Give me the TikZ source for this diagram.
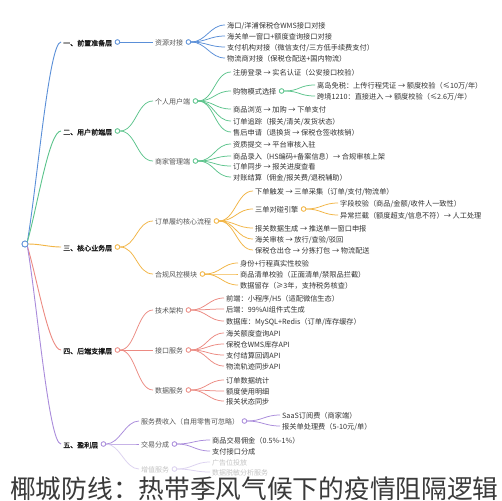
\documentclass[tikz,border=0pt]{standalone}
\usepackage{fontspec}
\setmainfont{Noto Sans CJK SC}
\newfontfamily\bfcjk[FakeBold=1.6]{Noto Sans CJK SC}
\usetikzlibrary{calc}
\definecolor{cB}{HTML}{5A8FD8}
\definecolor{cG}{HTML}{5CC48C}
\definecolor{cY}{HTML}{F2B544}
\definecolor{cR}{HTML}{EC8A82}
\definecolor{cP}{HTML}{A98BDB}
\definecolor{cPl}{HTML}{DCD2F0}
\definecolor{tOne}{HTML}{1A1A1A}
\definecolor{tTwo}{HTML}{555555}
\definecolor{tThree}{HTML}{333333}
\definecolor{tFade}{HTML}{C4C4C4}
\definecolor{tTitle}{HTML}{3A3A3A}
\begin{document}
\begin{tikzpicture}[x=1pt,y=-1pt,
  base/.style={anchor=west, inner xsep=2pt, inner ysep=0pt, text height=0.85em, text depth=0.09em},
  t1/.style={base, font=\bfcjk\fontsize{7}{8}\selectfont, text=tOne},
  t2/.style={base, font=\fontsize{7}{8}\selectfont, text=tTwo},
  t3/.style={base, font=\fontsize{7.2}{8}\selectfont, text=tThree},
  tf/.style={base, font=\fontsize{7}{8}\selectfont, text=tFade},
  dot/.style={circle, draw=#1, fill=white, inner sep=0pt, minimum size=4.5pt, line width=0.7pt},
  l1/.style={draw=#1, line width=0.9pt},
  con/.style={draw=#1, line width=0.75pt}]
\useasboundingbox[fill=white] (0,0) rectangle (502,500);

% ---------- level 1 ----------
\node[circle, draw=cB, fill=white, inner sep=0pt, minimum size=6pt, line width=0.8pt] (root) at (25,244) {};
\node[t1] (a) at (61,42) {一、前置准备层};
\node[t1] (b) at (61,131) {二、用户前端层};
\node[t1] (c) at (61,247) {三、核心业务层};
\node[t1] (d) at (61,350) {四、后端支撑层};
\node[t1] (e) at (61,444) {五、盈利层};
\node[dot=cB] (ad) at ([xshift=3pt]a.east) {};
\node[dot=cG] (bd) at ([xshift=3pt]b.east) {};
\node[dot=cY] (cd) at ([xshift=3pt]c.east) {};
\node[dot=cR] (dd) at ([xshift=3pt]d.east) {};
\node[dot=cP] (ed) at ([xshift=3pt]e.east) {};

% ---------- level 2 ----------
\node[t2] (a1) at (153,42) {资源对接};
\node[t2] (b1) at (153,101) {个人用户端};
\node[t2] (b2) at (153,161) {商家管理端};
\node[t2] (c1) at (153,221) {订单履约核心流程};
\node[t2] (c2) at (153,274) {合规风控模块};
\node[t2] (d1) at (153,310) {技术架构};
\node[t2] (d2) at (153,350) {接口服务};
\node[t2] (d3) at (153,390) {数据服务};
\node[t2] (e1) at (139,421) {服务费收入（自用零售可忽略）};
\node[t2] (e2) at (139,444) {交易分成};
\node[tf] (e3) at (139,469) {增值服务};
\node[dot=cB] (a1d) at ([xshift=3pt]a1.east) {};
\node[dot=cG] (b1d) at ([xshift=3pt]b1.east) {};
\node[dot=cG] (b2d) at ([xshift=3pt]b2.east) {};
\node[dot=cY] (c1d) at ([xshift=3pt]c1.east) {};
\node[dot=cY] (c2d) at ([xshift=3pt]c2.east) {};
\node[dot=cR] (d1d) at ([xshift=3pt]d1.east) {};
\node[dot=cR] (d2d) at ([xshift=3pt]d2.east) {};
\node[dot=cR] (d3d) at ([xshift=3pt]d3.east) {};
\node[dot=cP] (e1d) at ([xshift=3pt]e1.east) {};
\node[dot=cP] (e2d) at ([xshift=3pt]e2.east) {};
\node[dot=cPl] (e3d) at ([xshift=3pt]e3.east) {};

% ---------- level 3 ----------
\node[t3] (a11) at (225,25) {海口/洋浦保税仓WMS接口对接};
\node[t3] (a12) at (225,36) {海关单一窗口+额度查询接口对接};
\node[t3] (a13) at (225,47) {支付机构对接（微信支付/三方低手续费支付）};
\node[t3] (a14) at (225,58) {物流商对接（保税仓配送+国内物流）};

\node[t3] (b11) at (231,72) {注册登录 → 实名认证（公安接口校验）};
\node[t3] (b12) at (231,91) {购物模式选择};
\node[t3] (b13) at (231,109) {商品浏览 → 加购 → 下单支付};
\node[t3] (b14) at (231,121) {订单追踪（报关/清关/发货状态）};
\node[t3] (b15) at (231,132) {售后申请（退换货 → 保税仓签收核销）};
\node[dot=cG] (b12d) at ([xshift=3pt]b12.east) {};
\node[t3] (b121) at (315,85) {离岛免税：上传行程凭证 → 额度校验（≤10万/年）};
\node[t3] (b122) at (315,96) {跨境1210：直接进入 → 额度校验（≤2.6万/年）};

\node[t3] (b21) at (231,144) {资质提交 → 平台审核入驻};
\node[t3] (b22) at (231,156) {商品录入（HS编码+备案信息）→ 合规审核上架};
\node[t3] (b23) at (231,166) {订单同步 → 报关进度查看};
\node[t3] (b24) at (231,177) {对账结算（佣金/报关费/退税辅助）};

\node[t3] (c11) at (253,191) {下单触发 → 三单采集（订单/支付/物流单）};
\node[t3] (c12) at (253,209) {三单对碰引擎};
\node[t3] (c13) at (253,228) {报关数据生成 → 推送单一窗口申报};
\node[t3] (c14) at (253,239) {海关审核 → 放行/查验/驳回};
\node[t3] (c15) at (253,250) {保税仓出仓 → 分拣打包 → 物流配送};
\node[dot=cY] (c12d) at ([xshift=3pt]c12.east) {};
\node[t3] (c121) at (338,203) {字段校验（商品/金额/收件人一致性）};
\node[t3] (c122) at (338,215) {异常拦截（额度超支/信息不符）→ 人工处理};

\node[t3] (c21) at (238,263) {身份+行程真实性校验};
\node[t3] (c22) at (238,274) {商品清单校验（正面清单/禁限品拦截）};
\node[t3] (c23) at (238,285) {数据留存（≥3年，支持税务核查）};

\node[t3] (d11) at (224,298) {前端：小程序/H5（适配微信生态）};
\node[t3] (d12) at (224,309) {后端：99\%AI组件式生成};
\node[t3] (d13) at (224,321) {数据库：MySQL+Redis（订单/库存缓存）};

\node[t3] (d21) at (224,333) {海关额度查询API};
\node[t3] (d22) at (224,344) {保税仓WMS库存API};
\node[t3] (d23) at (224,355) {支付结算回调API};
\node[t3] (d24) at (224,366) {物流轨迹同步API};

\node[t3] (d31) at (224,380) {订单数据统计};
\node[t3] (d32) at (224,391) {额度使用明细};
\node[t3] (d33) at (224,401) {报关状态同步};

\node[t3] (e11) at (280,415) {SaaS订阅费（商家端）};
\node[t3] (e12) at (280,426) {报关单处理费（5-10元/单）};
\node[t3] (e21) at (210,440) {商品交易佣金（0.5\%-1\%）};
\node[t3] (e22) at (210,451) {支付接口分成};
\node[tf] (e31) at (210,462) {广告位投放};
\node[tf] (e32) at (210,472) {数据脱敏分析服务};

% ---------- connectors ----------
\draw[l1=cB] (root.north east) .. controls +(10,-60) and +(-12,0) .. (a.west);
\draw[l1=cG] (root.north east) .. controls +(10,-35) and +(-12,0) .. (b.west);
\draw[l1=cY] (root.east) .. controls +(12,0) and +(-12,0) .. (c.west);
\draw[l1=cR] (root.south east) .. controls +(10,33) and +(-12,0) .. (d.west);
\draw[l1=cP] (root.south east) .. controls +(10,60) and +(-12,0) .. (e.west);

\draw[con=cB] (ad.east) -- (a1.west);
\foreach \n in {b1,b2} \draw[con=cG] (bd.east) .. controls +(16,0) and +(-16,0) .. (\n.west);
\foreach \n in {c1,c2} \draw[con=cY] (cd.east) .. controls +(16,0) and +(-16,0) .. (\n.west);
\foreach \n in {d1,d2,d3} \draw[con=cR] (dd.east) .. controls +(16,0) and +(-16,0) .. (\n.west);
\foreach \n in {e1,e2} \draw[con=cP] (ed.east) .. controls +(14,0) and +(-14,0) .. (\n.west);
\draw[con=cPl] (ed.east) .. controls +(14,0) and +(-14,0) .. (e3.west);

\foreach \n in {a11,a12,a13,a14} \draw[con=cB] (a1d.east) .. controls +(15,0) and +(-15,0) .. (\n.west);
\foreach \n in {b11,b12,b13,b14,b15} \draw[con=cG] (b1d.east) .. controls +(16,0) and +(-16,0) .. (\n.west);
\foreach \n in {b121,b122} \draw[con=cG] (b12d.east) .. controls +(16,0) and +(-16,0) .. (\n.west);
\foreach \n in {b21,b22,b23,b24} \draw[con=cG] (b2d.east) .. controls +(16,0) and +(-16,0) .. (\n.west);
\foreach \n in {c11,c12,c13,c14,c15} \draw[con=cY] (c1d.east) .. controls +(16,0) and +(-16,0) .. (\n.west);
\foreach \n in {c121,c122} \draw[con=cY] (c12d.east) .. controls +(15,0) and +(-15,0) .. (\n.west);
\foreach \n in {c21,c22,c23} \draw[con=cY] (c2d.east) .. controls +(15,0) and +(-15,0) .. (\n.west);
\foreach \n in {d11,d12,d13} \draw[con=cR] (d1d.east) .. controls +(15,0) and +(-15,0) .. (\n.west);
\foreach \n in {d21,d22,d23,d24} \draw[con=cR] (d2d.east) .. controls +(15,0) and +(-15,0) .. (\n.west);
\foreach \n in {d31,d32,d33} \draw[con=cR] (d3d.east) .. controls +(15,0) and +(-15,0) .. (\n.west);
\foreach \n in {e11,e12} \draw[con=cP] (e1d.east) .. controls +(15,0) and +(-15,0) .. (\n.west);
\foreach \n in {e21,e22} \draw[con=cP] (e2d.east) .. controls +(15,0) and +(-15,0) .. (\n.west);
\foreach \n in {e31,e32} \draw[con=cPl] (e3d.east) .. controls +(15,0) and +(-15,0) .. (\n.west);

% redraw dots on top
\foreach \n/\col in {ad/cB,bd/cG,cd/cY,dd/cR,ed/cP,a1d/cB,b1d/cG,b2d/cG,b12d/cG,c1d/cY,c2d/cY,c12d/cY,d1d/cR,d2d/cR,d3d/cR,e1d/cP,e2d/cP,e3d/cPl}
  \draw[draw=\col, fill=white, line width=0.7pt] (\n) circle (2.25pt);
\draw[draw=cB, fill=white, line width=0.8pt] (root) circle (3pt);

% ---------- title ----------
\node[anchor=base west, inner sep=0pt, font=\fontsize{25.7}{30}\selectfont, text=tTitle] (title) at (10,498.5) {椰城防线：热带季风气候下的疫情阻隔逻辑};
\end{tikzpicture}
\end{document}
